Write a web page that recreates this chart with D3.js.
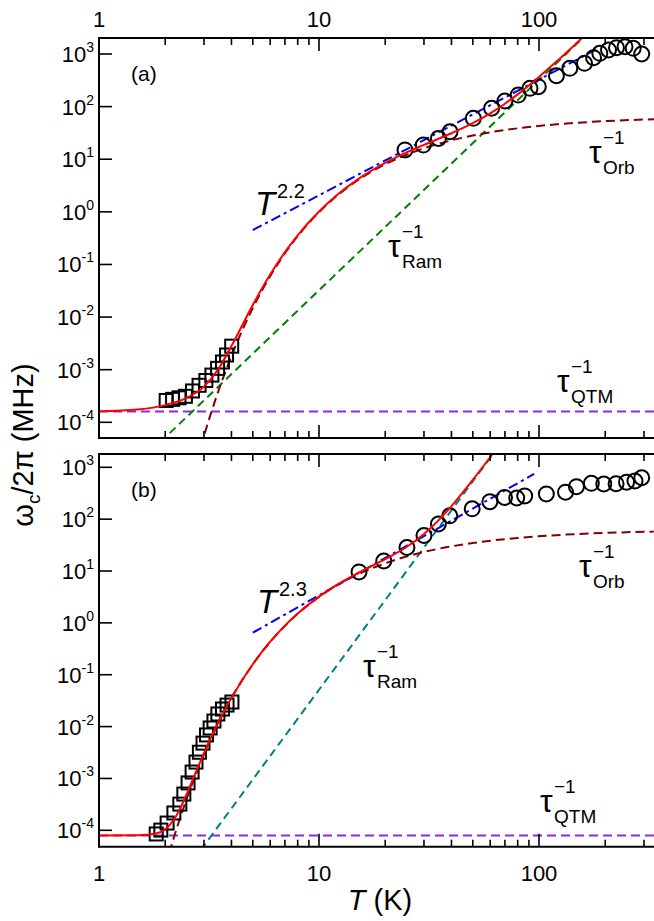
<!DOCTYPE html>
<html><head><meta charset="utf-8">
<script src="https://cdn.jsdelivr.net/npm/d3@7"></script>
<style>body{margin:0;background:#fff}svg{display:block}text{font-family:"Liberation Sans",Arial,sans-serif;fill:#000}</style>
</head><body>
<svg id="c" width="654" height="921"></svg>
<script>
// ---------- data ----------
const xTicksMajor = [1, 10, 100];
const yTickExps = [-4, -3, -2, -1, 0, 1, 2, 3];

// panel (a)
const sqA_T = [2.02, 2.16, 2.31, 2.47, 2.66, 2.85, 3.06, 3.26, 3.46, 3.64, 3.80, 4.01];
const sqA_w = [2.6e-4, 2.73e-4, 2.92e-4, 3.12e-4, 3.94e-4, 5.05e-4, 6.23e-4, 7.9e-4, 1.06e-3, 1.4e-3, 1.9e-3, 2.8e-3];
const ciA_T = [24.6, 29.8, 34.9, 39.4, 50.3, 60.9, 70, 80.5, 91, 99.3, 120, 138, 161, 177, 189, 207, 225, 246, 268, 293];
const ciA_w = [15.0, 18.6, 24.9, 33.3, 60, 93, 128, 166, 223, 239, 386, 535, 665, 851, 1030, 1190, 1318, 1378, 1283, 1000];
const fitA_T = [1, 1.5, 2, 2.5, 3, 3.5, 4, 5, 6, 7, 8, 10, 12, 15, 20, 25, 30, 40, 50, 60, 70, 80, 100, 120, 140, 160];
const fitA_w = [1.63e-4, 1.76e-4, 2.12e-4, 2.9e-4, 4.77e-4, 1.05e-3, 2.81e-3, 0.0170, 0.0642, 0.171, 0.358, 1.016, 2.05, 4.15, 8.53, 13.46, 18.75, 31.2, 48.4, 74.4, 113.6, 171, 366.5, 717, 1291, 2170];
const orbA_T = [2.9, 3, 3.25, 3.5, 4, 4.5, 5, 6, 7, 8, 10, 12, 15, 20, 30, 50, 80, 120, 200, 333];
const orbA_w = [3.4e-5, 5.52e-5, 1.62e-4, 4.07e-4, 1.82e-3, 5.84e-3, 0.01483, 0.06, 0.163, 0.345, 0.984, 1.98, 3.98, 8.02, 16.1, 28.2, 38.7, 46.0, 53.0, 57.5];
const ramA_T = [1.9, 170];
const ramA_w = [4.2e-5, 2700];
const qtmA_T = [1, 333];
const qtmA_w = [1.6e-4, 1.6e-4];
const powA_T = [5.0, 186];
const powA_w = [0.449, 1280];

// panel (b)
const sqB_T = [1.82, 1.91, 2.04, 2.19, 2.33, 2.43, 2.54, 2.65, 2.76, 2.86, 2.97, 3.08, 3.20, 3.33, 3.47, 3.64, 3.82, 4.02];
const sqB_w = [8.5e-5, 1.01e-4, 1.38e-4, 2.16e-4, 3.2e-4, 5.0e-4, 8.2e-4, 1.33e-3, 2.07e-3, 3.2e-3, 4.8e-3, 6.9e-3, 9.4e-3, 1.28e-2, 1.75e-2, 2.18e-2, 2.6e-2, 2.98e-2];
const ciB_T = [15.2, 19.7, 25.1, 30.0, 34.9, 39.3, 49.7, 59.8, 69.7, 79.2, 86.1, 108, 132, 148, 173, 197, 224, 250, 273, 293];
const ciB_w = [9.6, 15.6, 28.4, 48.4, 80.7, 116, 158, 217, 262, 256, 280, 306, 331, 423, 491, 476, 483, 516, 544, 628];
const fitB_T = [1, 1.5, 1.8, 2, 2.2, 2.4, 2.6, 2.8, 3, 3.5, 4, 5, 6, 7, 8, 10, 12, 15, 20, 25, 30, 35, 40, 50, 60, 65];
const fitB_w = [7.91e-5, 8.0e-5, 8.55e-5, 1.04e-4, 1.65e-4, 3.35e-4, 7.32e-4, 1.55e-3, 3.06e-3, 0.0124, 0.0358, 0.1595, 0.433, 0.884, 1.51, 3.21, 5.35, 9.1, 16.9, 29, 51.7, 95.8, 178.5, 571, 1569, 2465];
const orbB_T = [2.0, 2.2, 2.5, 3, 3.5, 4, 5, 6, 8, 10, 15, 20, 30, 50, 80, 120, 200, 333];
const orbB_w = [2.0e-5, 7.78e-5, 3.98e-4, 2.93e-3, 0.0122, 0.0355, 0.1585, 0.43, 1.496, 3.16, 8.58, 14.1, 23.3, 34.7, 43.4, 49.2, 54.3, 57.7];
const ramB_T = [2.9, 70];
const ramB_w = [4.16e-5, 3700];
const qtmB_T = [1, 333];
const qtmB_w = [7.9e-5, 7.9e-5];
const powB_T = [5.0, 95];
const powB_w = [0.647, 743];

// ---------- drawing ----------
const svg = d3.select("#c");
const X0 = 99, X1 = 654;
const x = d3.scaleLog().domain([1, 333.2]).range([X0, X1]);

const panels = [
  {top: 38, bottom: 438, dom: [5.03e-5, 2014], label: "(a)", sq: [sqA_T, sqA_w], ci: [ciA_T, ciA_w],
   fit: [fitA_T, fitA_w], orb: [orbA_T, orbA_w], ram: [ramA_T, ramA_w], ramColor: "#008000",
   qtm: [qtmA_T, qtmA_w], pow: [powA_T, powA_w], topLabels: true, bottomLabels: false,
   powText: {x: 255, y: 215, exp: "2.2"},
   taus: [{x: 388, y: 257, sub: "Ram"}, {x: 589, y: 163, sub: "Orb"}, {x: 557, y: 392, sub: "QTM"}]},
  {top: 454, bottom: 846.7, dom: [4.83e-5, 1805], label: "(b)", sq: [sqB_T, sqB_w], ci: [ciB_T, ciB_w],
   fit: [fitB_T, fitB_w], orb: [orbB_T, orbB_w], ram: [ramB_T, ramB_w], ramColor: "#008080",
   qtm: [qtmB_T, qtmB_w], pow: [powB_T, powB_w], topLabels: false, bottomLabels: true,
   powText: {x: 257, y: 613, exp: "2.3"},
   taus: [{x: 363, y: 677, sub: "Ram"}, {x: 579, y: 577, sub: "Orb"}, {x: 540, y: 812, sub: "QTM"}]}
];

const minorT = [];
[1, 10, 100].forEach(d => { for (let k = 2; k <= 9; k++) { const v = d * k; if (v <= 333) minorT.push(v); } });

panels.forEach((p, i) => {
  const y = d3.scaleLog().domain(p.dom).range([p.bottom, p.top]);
  const g = svg.append("g");
  const clipId = "clip" + i;
  svg.append("clipPath").attr("id", clipId).append("rect")
    .attr("x", X0).attr("y", p.top).attr("width", X1 - X0).attr("height", p.bottom - p.top);
  const pg = g.append("g").attr("clip-path", `url(#${clipId})`);

  const line = d3.line().x(d => x(d[0])).y(d => y(d[1])).curve(d3.curveMonotoneX);
  const zip = (a) => a[0].map((t, j) => [t, a[1][j]]);

  const addLine = (data, color, dash, w) => pg.append("path").datum(zip(data))
    .attr("d", line).attr("fill", "none").attr("stroke", color)
    .attr("stroke-width", w).attr("stroke-dasharray", dash);

  addLine(p.qtm, "#8a2be2", "9,5", 2);
  addLine(p.ram, p.ramColor, "8,5", 2);
  addLine(p.orb, "#800000", "9,5", 2);
  addLine(p.pow, "#0000ff", "10,4,3,4", 2);

  // squares
  pg.selectAll("rect.sq").data(zip(p.sq)).join("rect").attr("class", "sq")
    .attr("x", d => x(d[0]) - 6.5).attr("y", d => y(d[1]) - 6.5)
    .attr("width", 13).attr("height", 13)
    .attr("fill", "none").attr("stroke", "#000").attr("stroke-width", 2);
  // circles
  pg.selectAll("circle.ci").data(zip(p.ci)).join("circle").attr("class", "ci")
    .attr("cx", d => x(d[0])).attr("cy", d => y(d[1])).attr("r", 7.5)
    .attr("fill", "none").attr("stroke", "#000").attr("stroke-width", 2);

  addLine(p.fit, "#ff0000", null, 2);

  // frame
  g.append("line").attr("x1", X0).attr("x2", X1 + 5).attr("y1", p.top).attr("y2", p.top).attr("stroke", "#000").attr("stroke-width", 2);
  g.append("line").attr("x1", X0).attr("x2", X1 + 5).attr("y1", p.bottom).attr("y2", p.bottom).attr("stroke", "#000").attr("stroke-width", 2);
  g.append("line").attr("x1", X0).attr("x2", X0).attr("y1", p.top - 1).attr("y2", p.bottom + 1).attr("stroke", "#000").attr("stroke-width", 2);

  // x ticks (inward on both top and bottom)
  [[p.top, 1], [p.bottom, -1]].forEach(([yy, dir]) => {
    xTicksMajor.forEach(t => g.append("line").attr("x1", x(t)).attr("x2", x(t))
      .attr("y1", yy).attr("y2", yy + dir * 13).attr("stroke", "#000").attr("stroke-width", 1.6));
    minorT.forEach(t => g.append("line").attr("x1", x(t)).attr("x2", x(t))
      .attr("y1", yy).attr("y2", yy + dir * 7).attr("stroke", "#000").attr("stroke-width", 1.6));
  });
  if (p.topLabels) xTicksMajor.forEach(t => g.append("text").attr("x", x(t)).attr("y", p.top - 11)
    .attr("text-anchor", "middle").attr("font-size", 22).text(t));
  if (p.bottomLabels) xTicksMajor.forEach(t => g.append("text").attr("x", x(t)).attr("y", p.bottom + 34)
    .attr("text-anchor", "middle").attr("font-size", 22).text(t));

  // y ticks
  yTickExps.forEach(e => {
    const yy = y(Math.pow(10, e));
    g.append("line").attr("x1", X0).attr("x2", X0 + 13).attr("y1", yy).attr("y2", yy)
      .attr("stroke", "#000").attr("stroke-width", 1.6);
    const t = g.append("text").attr("x", 94).attr("y", yy + 8).attr("text-anchor", "end").attr("font-size", 22);
    t.append("tspan").text("10");
    t.append("tspan").attr("dy", -10).attr("font-size", 14).text(String(e));
  });

  // panel label
  g.append("text").attr("x", 131).attr("y", p.top + 43).attr("font-size", 21).text(p.label);

  // power-law label
  g.append("text").attr("x", p.powText.x).attr("y", p.powText.y).attr("font-size", 33)
    .attr("font-style", "italic").text("T");
  g.append("text").attr("x", p.powText.x + 22).attr("y", p.powText.y - 17).attr("font-size", 20).text(p.powText.exp);

  // tau labels
  p.taus.forEach(tl => {
    g.append("text").attr("x", tl.x).attr("y", tl.y).attr("font-size", 32).text("τ");
    g.append("text").attr("x", tl.x + 14).attr("y", tl.y - 19).attr("font-size", 19).text("−1");
    g.append("text").attr("x", tl.x + 14).attr("y", tl.y + 11).attr("font-size", 19).text(tl.sub);
  });
});

// axis titles
const yt = svg.append("text").attr("transform", "translate(33,445) rotate(-90)")
  .attr("text-anchor", "middle").attr("font-size", 29);
yt.append("tspan").text("ω");
yt.append("tspan").attr("dy", 7).attr("font-size", 19).text("c");
yt.append("tspan").attr("dy", -7).text("/2π (MHz)");

const xt = svg.append("text").attr("x", 380).attr("y", 910).attr("text-anchor", "middle").attr("font-size", 29);
xt.append("tspan").attr("font-style", "italic").text("T");
xt.append("tspan").text(" (K)");
</script>
</body></html>
